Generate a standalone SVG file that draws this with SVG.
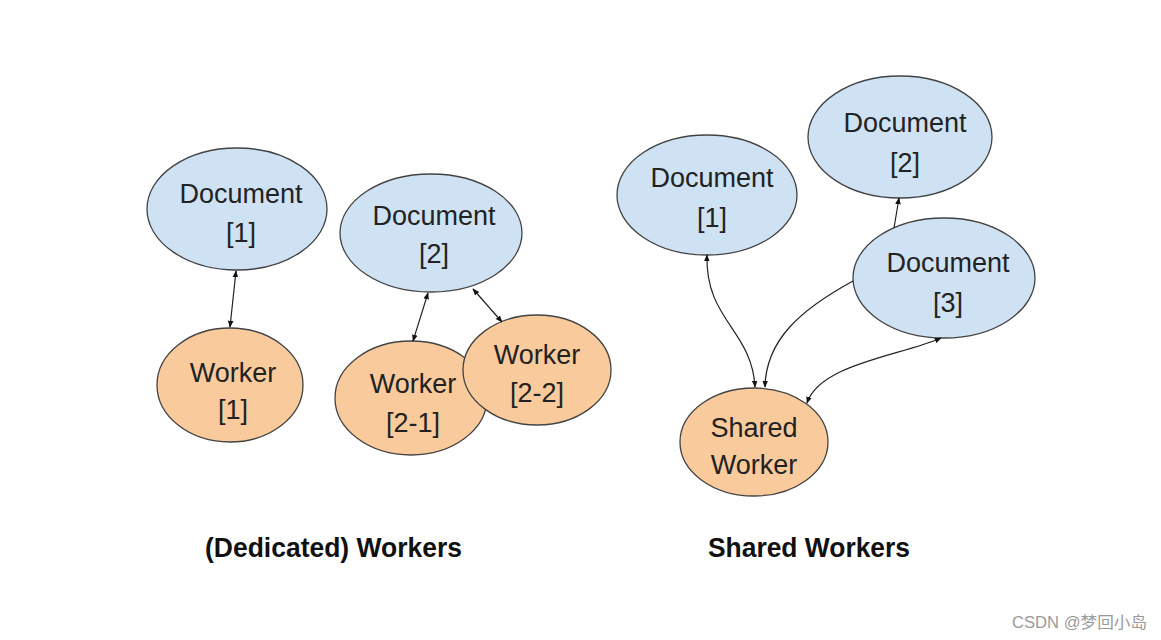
<svg xmlns="http://www.w3.org/2000/svg" width="1161" height="640" viewBox="0 0 1161 640">
<defs>
<marker id="ah" viewBox="0 0 10 10" refX="9" refY="5" markerWidth="7" markerHeight="7" markerUnits="userSpaceOnUse" orient="auto-start-reverse">
<path d="M0,1 L10,5 L0,9 Z" fill="#111"/>
</marker>
<style>
.doc{fill:#cfe2f3;stroke:#434343;stroke-width:1.3}
.wrk{fill:#f9cb9c;stroke:#434343;stroke-width:1.3}
.t{font-family:"Liberation Sans",Arial,sans-serif;font-size:27px;fill:#222;text-anchor:middle}
.lbl{font-family:"Liberation Sans",Arial,sans-serif;font-size:28px;font-weight:bold;fill:#111}
.c{fill:none;stroke:#222;stroke-width:1.2}
.wm{font-family:"Liberation Sans","Noto Sans CJK SC",sans-serif;font-size:16px;fill:#9a9a9a}
</style>
</defs>
<rect width="1161" height="640" fill="#fff"/>
<g id="ded-doc1"><ellipse class="doc" cx="237" cy="209" rx="90" ry="61"/><text class="t" x="241" y="203">Document</text><text class="t" x="241" y="242">[1]</text></g>
<g id="ded-worker1"><ellipse class="wrk" cx="230" cy="385" rx="73" ry="57"/><text class="t" x="233" y="382">Worker</text><text class="t" x="233" y="419">[1]</text></g>
<g id="ded-doc2"><ellipse class="doc" cx="431" cy="233" rx="91" ry="59"/><text class="t" x="434" y="225">Document</text><text class="t" x="434" y="263">[2]</text></g>
<g id="ded-worker2-1"><ellipse class="wrk" cx="411" cy="398" rx="76" ry="57"/><text class="t" x="413" y="393">Worker</text><text class="t" x="413" y="432">[2-1]</text></g>
<g id="ded-worker2-2"><ellipse class="wrk" cx="537" cy="370" rx="74" ry="55"/><text class="t" x="537" y="364">Worker</text><text class="t" x="537" y="402">[2-2]</text></g>
<g id="sh-doc1"><ellipse class="doc" cx="707" cy="195" rx="90" ry="60"/><text class="t" x="712" y="187">Document</text><text class="t" x="712" y="227">[1]</text></g>
<g id="sh-doc2"><ellipse class="doc" cx="900" cy="137" rx="92" ry="61"/><text class="t" x="905" y="132">Document</text><text class="t" x="905" y="172">[2]</text></g>
<g id="sh-doc3"><ellipse class="doc" cx="944" cy="278" rx="91" ry="60"/><text class="t" x="948" y="272">Document</text><text class="t" x="948" y="312">[3]</text></g>
<g id="sh-worker"><ellipse class="wrk" cx="754" cy="442" rx="74" ry="54"/><text class="t" x="754" y="437">Shared</text><text class="t" x="754" y="474">Worker</text></g>
<g id="connectors">
<line class="c" x1="236" y1="271" x2="230" y2="327" marker-start="url(#ah)" marker-end="url(#ah)"/>
<line class="c" x1="428" y1="293" x2="413" y2="341" marker-start="url(#ah)" marker-end="url(#ah)"/>
<line class="c" x1="473" y1="289" x2="502" y2="322" marker-start="url(#ah)" marker-end="url(#ah)"/>
<line class="c" x1="894" y1="228" x2="899" y2="198" marker-end="url(#ah)"/>
<path class="c" d="M707,255 C705,320 752,330 755,387" marker-start="url(#ah)" marker-end="url(#ah)"/>
<path class="c" d="M853,281 C800,310 766,340 765,387" marker-end="url(#ah)"/>
<path class="c" d="M941,338 C900,356 820,364 807,403" marker-start="url(#ah)" marker-end="url(#ah)"/>
</g>
<text class="lbl" x="205" y="557" textLength="257" lengthAdjust="spacingAndGlyphs">(Dedicated) Workers</text>
<text class="lbl" x="708" y="557" textLength="202" lengthAdjust="spacingAndGlyphs">Shared Workers</text>
<text class="wm" x="1012" y="628" textLength="135" lengthAdjust="spacingAndGlyphs">CSDN @梦回小岛</text>
</svg>
